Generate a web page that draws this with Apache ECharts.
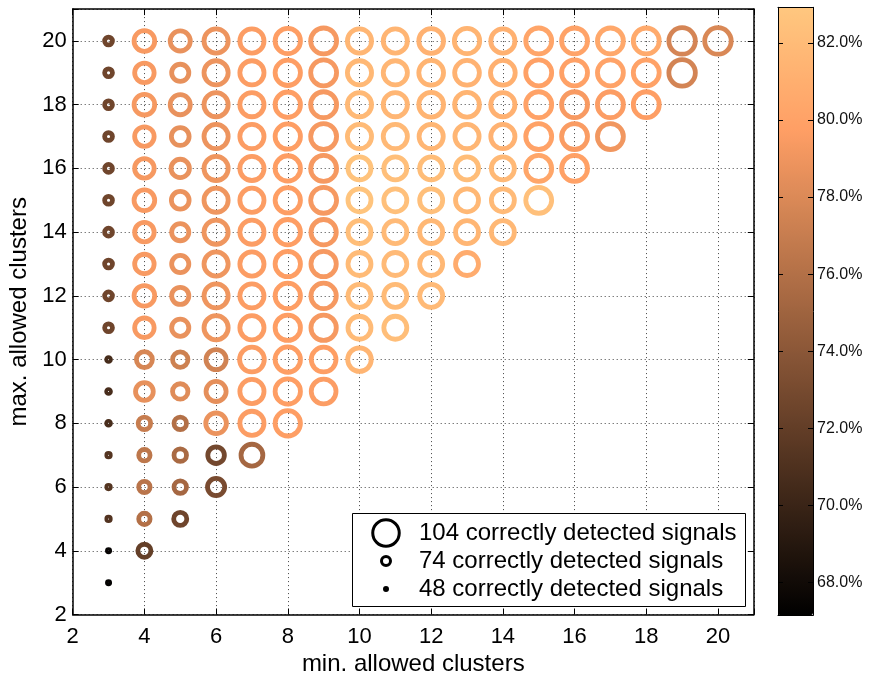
<!DOCTYPE html>
<html>
<head>
<meta charset="utf-8">
<script src="https://cdn.jsdelivr.net/npm/echarts@6/dist/echarts.min.js"></script>
<style>
  html, body { margin: 0; padding: 0; background: #fff; }
  #chart { width: 869px; height: 674px; }
</style>
</head>
<body>
<div id="chart"></div>
<script>
// Minimum allowed cluster counts (x); each row below lists values for max = min .. 20
const minClusters = [3, 4, 5, 6, 7, 8, 9, 10, 11, 12, 13, 14, 15, 16, 17, 18, 19, 20];
const maxClusterLimit = 20;

// Number of correctly detected signals per (min, max) pair
const signals = [
  [51, 51, 55, 55, 55, 56, 56, 56, 69, 69, 69, 69, 69, 69, 69, 69, 69, 69],
  [81, 78, 78, 78, 80, 89, 86, 92, 94, 92, 92, 94, 92, 92, 94, 92, 94],
  [81, 80, 80, 80, 85, 85, 88, 88, 88, 88, 89, 90, 89, 93, 88, 93],
  [88, 87, 94, 93, 93, 100, 100, 100, 100, 100, 100, 100, 100, 100, 100],
  [96, 100, 100, 101, 100, 100, 100, 100, 100, 100, 100, 100, 100, 100],
  [102, 102, 102, 102, 102, 102, 102, 102, 102, 102, 102, 102, 102],
  [101, 101, 102, 102, 102, 102, 103, 103, 103, 103, 103, 103],
  [99, 98, 98, 98, 98, 98, 98, 100, 100, 100, 100],
  [98, 98, 98, 98, 98, 98, 100, 100, 100, 100],
  [98, 98, 98, 98, 98, 100, 101, 101, 101],
  [98, 98, 98, 98, 100, 101, 101, 102],
  [98, 98, 98, 100, 100, 101, 100],
  [103, 103, 103, 103, 103, 103],
  [103, 103, 103, 103, 103],
  [103, 103, 103, 103],
  [103, 103, 103],
  [104, 104],
  [104]
];

// Detection accuracy in percent per (min, max) pair
const accuracy = [
  [67.3, 67.5, 71.2, 71.3, 71.3, 70.7, 70.7, 70.6, 72.6, 72.6, 72.6, 72.6, 72.6, 72.6, 72.6, 72.6, 72.6, 72.6],
  [72.1, 76.0, 76.3, 76.5, 77.0, 78.6, 77.8, 79.4, 79.4, 79.4, 79.4, 79.4, 79.3, 79.4, 79.3, 79.4, 79.4],
  [72.6, 75.3, 75.5, 76.0, 78.2, 77.3, 78.7, 78.7, 78.8, 78.8, 78.8, 78.7, 78.6, 78.7, 78.6, 78.7],
  [73.1, 72.8, 78.8, 78.5, 77.5, 79.0, 79.0, 79.0, 79.0, 79.0, 79.0, 78.9, 78.9, 78.9, 78.9],
  [75.3, 79.6, 79.6, 79.6, 79.6, 79.6, 79.6, 79.6, 79.6, 79.6, 79.6, 79.6, 79.6, 79.6],
  [79.7, 79.7, 79.7, 79.7, 79.7, 79.7, 79.7, 79.7, 79.7, 79.7, 79.7, 79.7, 79.7],
  [79.6, 79.7, 79.3, 79.3, 79.3, 79.3, 79.3, 79.3, 79.3, 79.3, 79.3, 79.3],
  [81.5, 82.0, 82.0, 82.0, 82.2, 82.7, 82.6, 82.0, 81.8, 81.7, 81.6],
  [82.2, 82.0, 81.9, 81.9, 82.4, 82.3, 81.8, 81.6, 81.6, 81.5],
  [81.9, 81.7, 81.7, 82.3, 82.1, 81.6, 81.4, 81.4, 81.3],
  [80.8, 81.6, 81.7, 82.1, 81.6, 81.4, 81.3, 81.4],
  [81.7, 81.9, 81.8, 81.3, 81.2, 81.1, 81.2],
  [82.4, 80.3, 80.0, 80.0, 79.9, 80.2],
  [79.9, 79.5, 79.4, 79.9, 80.1],
  [79.1, 79.6, 80.1, 80.5],
  [79.7, 80.0, 80.6],
  [77.6, 77.7],
  [77.9]
];

// Reference sizes shown in the legend
const legendCounts = [104, 74, 48];

// Tick values
const axisTicks = [2, 4, 6, 8, 10, 12, 14, 16, 18, 20];
const colorbarTicks = [68, 70, 72, 74, 76, 78, 80, 82];
const accuracyRange = [67.15, 82.92];

const FONT = '"Liberation Sans", Arial, Helvetica, sans-serif';

// Copper colormap: r = min(1, 1.25t), g = 0.7812t, b = 0.4975t
function copper(t) {
  const r = Math.round(255 * Math.min(1, 1.25 * t));
  const g = Math.round(255 * 0.7812 * t);
  const b = Math.round(255 * 0.4975 * t);
  return 'rgb(' + r + ',' + g + ',' + b + ')';
}
const copperStops = [0, 0.2, 0.4, 0.6, 0.8, 1].map(copper);

// Marker diameter (stroke centre line) for a number of detected signals
function markerDiameter(n) {
  if (n <= 74) return 3 + (n - 48) * 6 / 26;
  return 9 + (n - 74) * 17.5 / 30;
}
// Ring stroke width: thick rings, small markers close up into dots
function ringWidth(d) {
  return Math.min(4.8, 2 + 0.35 * d);
}

// Flatten into [min, max, signals, accuracy] records
const points = [];
minClusters.forEach((mn, i) => {
  for (let mx = mn; mx <= maxClusterLimit; mx++) {
    const k = mx - mn;
    points.push([mn, mx, signals[i][k], accuracy[i][k]]);
  }
});

// Size legend: box, ring glyphs and labels
const legendBox = { x: 352.5, y: 513.5, width: 393, height: 93 };
const legendRowsY = [533, 561, 589];
const legendGraphics = [{
  type: 'rect', z: 5, shape: legendBox,
  style: { fill: '#fff', stroke: '#000', lineWidth: 1 }
}];
legendCounts.forEach((n, i) => {
  legendGraphics.push({
    type: 'circle', z: 6,
    shape: { cx: 386, cy: legendRowsY[i], r: markerDiameter(n) / 2 },
    style: { fill: 'none', stroke: '#000', lineWidth: 3 }
  });
  legendGraphics.push({
    type: 'text', z: 6, x: 419, y: legendRowsY[i],
    style: {
      text: n + ' correctly detected signals',
      fill: '#000', font: '24px ' + FONT,
      textAlign: 'left', textVerticalAlign: 'middle'
    }
  });
});

const chart = echarts.init(document.getElementById('chart'), null, { renderer: 'canvas' });

const evenLabel = v => (v % 2 === 0 ? String(v) : '');

const option = {
  backgroundColor: '#fff',
  animation: false,
  textStyle: { fontFamily: FONT },
  grid: [
    { left: 72.7, top: 9.1, width: 681.1, height: 605.4, containLabel: false, outerBoundsMode: 'none' },
    { left: 778, top: 7.3, width: 35, height: 608, containLabel: false, outerBoundsMode: 'none' }
  ],
  xAxis: [
    {
      gridIndex: 0, type: 'value', min: 2, max: 21, interval: 2, position: 'bottom',
      name: 'min. allowed clusters', nameLocation: 'middle', nameGap: 28,
      nameTextStyle: { fontSize: 24, color: '#000', fontFamily: FONT },
      axisLine: { show: true, onZero: false, lineStyle: { color: '#000', width: 1.5 } },
      axisTick: { show: true, inside: true, length: 6, lineStyle: { color: '#000', width: 1 } },
      axisLabel: { formatter: evenLabel, fontSize: 22, color: '#000', margin: 11, fontFamily: FONT },
      splitLine: { show: true, lineStyle: { type: [1, 3], color: '#444', width: 1 } }
    },
    {
      gridIndex: 0, type: 'value', min: 2, max: 21, interval: 2, position: 'top',
      axisLine: { show: true, onZero: false, lineStyle: { color: '#000', width: 1.5 } },
      axisTick: { show: true, inside: true, length: 6, lineStyle: { color: '#000', width: 1 } },
      axisLabel: { show: false }, splitLine: { show: false }
    },
    {
      gridIndex: 1, type: 'value', min: 0, max: 1, position: 'bottom', z: 10,
      axisLine: { show: true, onZero: false, lineStyle: { color: '#000', width: 1 } },
      axisTick: { show: false }, axisLabel: { show: false }, splitLine: { show: false }
    },
    {
      gridIndex: 1, type: 'value', min: 0, max: 1, position: 'top', z: 10,
      axisLine: { show: true, onZero: false, lineStyle: { color: '#000', width: 1 } },
      axisTick: { show: false }, axisLabel: { show: false }, splitLine: { show: false }
    }
  ],
  yAxis: [
    {
      gridIndex: 0, type: 'value', min: 2, max: 21, interval: 2, position: 'left',
      name: 'max. allowed clusters', nameLocation: 'middle', nameGap: 40, nameRotate: 90,
      nameTextStyle: { fontSize: 24, color: '#000', fontFamily: FONT },
      axisLine: { show: true, onZero: false, lineStyle: { color: '#000', width: 1.5 } },
      axisTick: { show: true, inside: true, length: 6, lineStyle: { color: '#000', width: 1 } },
      axisLabel: { formatter: evenLabel, fontSize: 22, color: '#000', margin: 6, fontFamily: FONT },
      splitLine: { show: true, lineStyle: { type: [1, 3], color: '#444', width: 1 } }
    },
    {
      gridIndex: 0, type: 'value', min: 2, max: 21, interval: 2, position: 'right',
      axisLine: { show: true, onZero: false, lineStyle: { color: '#000', width: 1.5 } },
      axisTick: { show: true, inside: true, length: 6, lineStyle: { color: '#000', width: 1 } },
      axisLabel: { show: false }, splitLine: { show: false }
    },
    {
      gridIndex: 1, type: 'value', min: accuracyRange[0], max: accuracyRange[1], position: 'left', z: 10,
      axisLine: { show: true, onZero: false, lineStyle: { color: '#000', width: 1 } },
      axisTick: { show: true, inside: true, length: 5, customValues: colorbarTicks, lineStyle: { color: '#000' } },
      axisLabel: { show: false }, splitLine: { show: false }
    },
    {
      gridIndex: 1, type: 'value', min: accuracyRange[0], max: accuracyRange[1], position: 'right', z: 10,
      axisLine: { show: true, onZero: false, lineStyle: { color: '#000', width: 1 } },
      axisTick: { show: true, inside: true, length: 5, customValues: colorbarTicks, lineStyle: { color: '#000' } },
      axisLabel: {
        show: true, customValues: colorbarTicks, fontSize: 16, color: '#111', margin: 4, fontFamily: FONT,
        formatter: v => v.toFixed(1) + '%'
      },
      splitLine: { show: false }
    }
  ],
  visualMap: {
    type: 'continuous',
    min: accuracyRange[0], max: accuracyRange[1],
    dimension: 3, seriesIndex: 0,
    calculable: false, hoverLink: false,
    orient: 'vertical', left: 778, top: 7.3, padding: 0,
    itemWidth: 35, itemHeight: 608,
    inRange: { color: copperStops },
    z: 4
  },
  graphic: legendGraphics,
  series: [
    {
      type: 'custom',
      name: 'signals',
      coordinateSystem: 'cartesian2d',
      xAxisIndex: 0, yAxisIndex: 0,
      data: points,
      encode: { x: 0, y: 1 },
      z: 2,
      renderItem: (params, api) => {
        const c = api.coord([api.value(0), api.value(1)]);
        const d = markerDiameter(api.value(2));
        return {
          type: 'circle',
          shape: { cx: c[0], cy: c[1], r: d / 2 },
          style: { fill: 'none', stroke: api.visual('color'), lineWidth: ringWidth(d) }
        };
      }
    }
  ]
};

chart.setOption(option);
</script>
</body>
</html>
